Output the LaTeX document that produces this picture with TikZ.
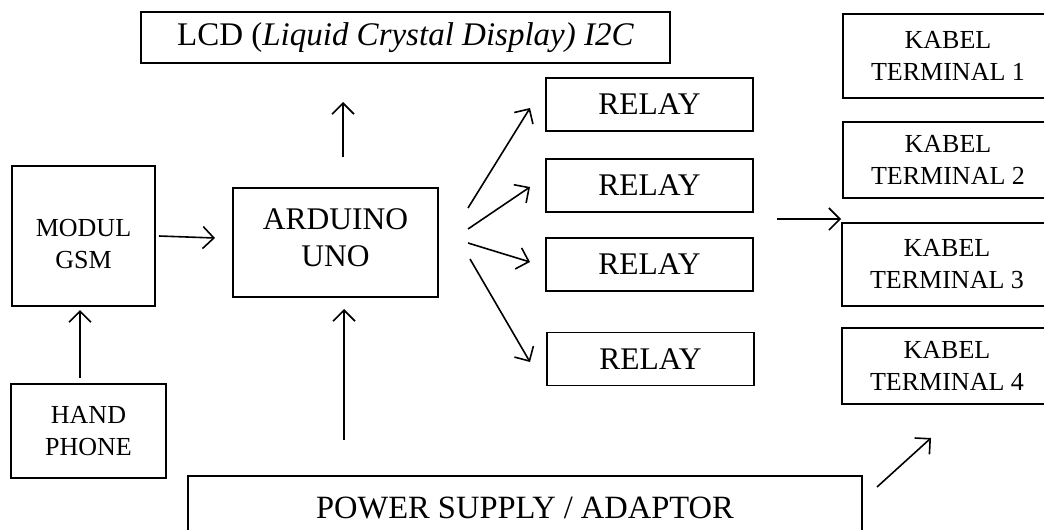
\documentclass[tikz,border=0pt]{standalone}
\usepackage{fontspec}
\setmainfont{Liberation Serif}
\usetikzlibrary{arrows.meta,positioning}

\begin{document}
\begin{tikzpicture}[
    x=1pt, y=-1pt,
    box/.style={draw, line width=1.6pt, align=center, inner sep=0pt,
      font=\fontsize{31.5}{37}\selectfont},
    smallbox/.style={box, font=\fontsize{26}{32}\selectfont},
    relaybox/.style={box, minimum width=207pt, minimum height=53pt},
    kabelbox/.style={smallbox, minimum width=210pt},
    arrow/.style={-{Straight Barb[length=11pt, width=22pt]}, line width=1.6pt}
  ]
    \useasboundingbox (0,0) rectangle (1044,530);
    \clip (0,0) rectangle (1044,530);

    \node[box, minimum width=529pt, minimum height=51pt, font=\fontsize{33}{38}\selectfont] (lcd) at (405.5,37.5)
      {LCD (\textit{Liquid Crystal Display) I2C}};
    \node[smallbox, minimum width=143pt, minimum height=140pt, text height=66pt] (gsm) at (83.5,236) {MODUL\\GSM};
    \node[box, minimum width=205pt, minimum height=109pt, text depth=10pt] (arduino) at (335.5,242.5) {ARDUINO\\UNO};
    \node[smallbox, minimum width=155pt, minimum height=94pt] (hp) at (88.5,431) {HAND\\PHONE};
    \node[box, minimum width=674pt, minimum height=64pt, font=\fontsize{32.5}{38}\selectfont] (power) at (525,508)
      {POWER SUPPLY / ADAPTOR};

    % relays
    \node[relaybox] (relay1) at (649.5,104.5) {RELAY};
    \node[relaybox] (relay2) at (649.5,185.5) {RELAY};
    \node[relaybox] (relay3) at (649.5,264.5) {RELAY};
    \node[relaybox] (relay4) at (650.5,359) {RELAY};

    % terminals
    \node[kabelbox, minimum height=84pt] (kabel1) at (948,56) {KABEL\\TERMINAL 1};
    \node[kabelbox, minimum height=76pt] (kabel2) at (948,160) {KABEL\\TERMINAL 2};
    \node[kabelbox, minimum height=83pt] (kabel3) at (947,264.5) {KABEL\\TERMINAL 3};
    \node[kabelbox, minimum height=76pt] (kabel4) at (947,366) {KABEL\\TERMINAL 4};

    % free arrow ends
    \coordinate (lcdfrom) at (343,157);
    \coordinate (lcdto) at (343,102);
    \coordinate (gsmfrom) at (159,236);
    \coordinate (gsmto) at (215,238);
    \coordinate (hpfrom) at (80,378);
    \coordinate (hpto) at (80,310);
    \coordinate (powfrom) at (344,440);
    \coordinate (powto) at (344,309);
    \coordinate (out1) at (468,208);
    \coordinate (in1) at (530,108);
    \coordinate (out2) at (468,229);
    \coordinate (in2) at (530,187);
    \coordinate (out3) at (468,243);
    \coordinate (in3) at (530,262);
    \coordinate (out4) at (470,259);
    \coordinate (in4) at (530,362);
    \coordinate (relayout) at (777,219);
    \coordinate (kabelin) at (841,219);
    \coordinate (adpfrom) at (877,487);
    \coordinate (adpto) at (931,438);

    \draw[arrow] (lcdfrom) -- (lcdto);
    \draw[arrow] (gsmfrom) -- (gsmto);
    \draw[arrow] (hpfrom) -- (hpto);
    \draw[arrow] (powfrom) -- (powto);
    \foreach \i in {1,...,4}
      \draw[arrow] (out\i) -- (in\i);
    \draw[arrow] (relayout) -- (kabelin);
    \draw[arrow] (adpfrom) -- (adpto);
  \end{tikzpicture}
\end{document}
